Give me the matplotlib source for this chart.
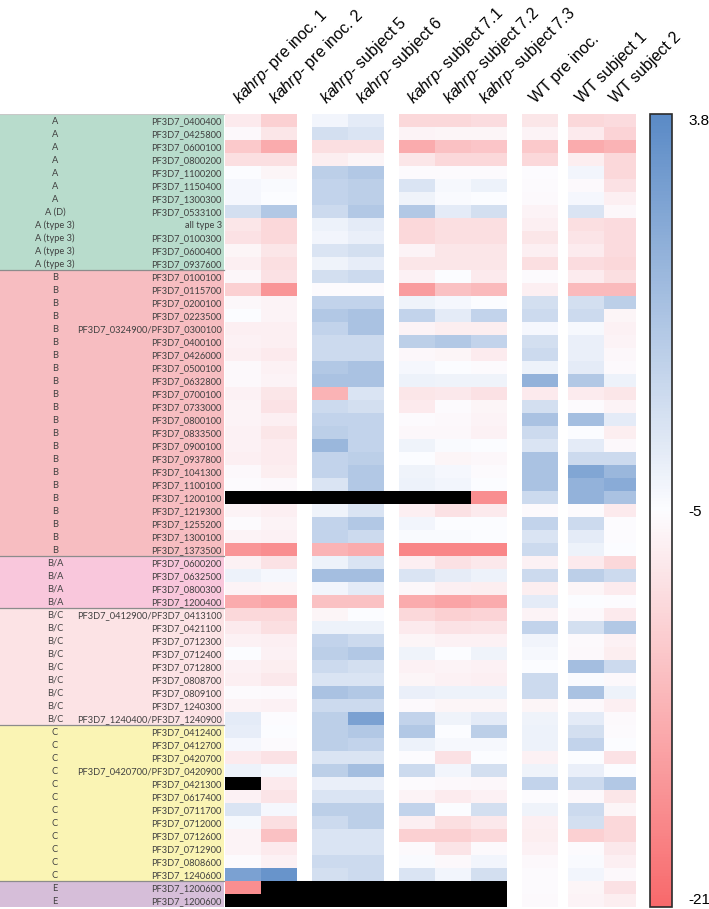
import numpy as np
import matplotlib
matplotlib.use('Agg')
import matplotlib.pyplot as plt
from matplotlib.colors import LinearSegmentedColormap, ListedColormap, TwoSlopeNorm
from matplotlib.cm import ScalarMappable
from matplotlib.patches import Rectangle

plt.rcParams['mathtext.fontset'] = 'custom'
plt.rcParams['mathtext.it'] = 'Liberation Sans:italic'
plt.rcParams['mathtext.rm'] = 'Liberation Sans'

# sample columns
samples = [r'$\mathit{kahrp}$- pre inoc. 1', r'$\mathit{kahrp}$- pre inoc. 2',
           r'$\mathit{kahrp}$- subject 5', r'$\mathit{kahrp}$- subject 6',
           r'$\mathit{kahrp}$- subject 7.1', r'$\mathit{kahrp}$- subject 7.2',
           r'$\mathit{kahrp}$- subject 7.3', 'WT pre inoc.',
           'WT subject 1', 'WT subject 2']

N = None  # no data (black)

# group A
A_groups = ['A'] * 7 + ['A (D)'] + ['A (type 3)'] * 4
A_genes = ['PF3D7_0400400', 'PF3D7_0425800', 'PF3D7_0600100', 'PF3D7_0800200',
           'PF3D7_1100200', 'PF3D7_1150400', 'PF3D7_1300300', 'PF3D7_0533100',
           'all type 3', 'PF3D7_0100300', 'PF3D7_0600400', 'PF3D7_0937600']
A_vals = [
    [-7, -9.8, -4.5, -3.7, -9, -9, -8.5, -7.4, -9, -8.6],
    [-5.5, -7.4, -2.8, -3.2, -6, -5.8, -5.8, -6, -7, -9.4],
    [-10.6, -13.8, -8.2, -8.2, -13.8, -11.4, -11, -10.6, -13.8, -13],
    [-8.2, -8.2, -6.6, -5.8, -7.4, -9, -9, -9, -6.6, -9],
    [-5, -5.8, -1.5, -1, -5.2, -5.2, -5.2, -5.1, -4.5, -9],
    [-4.6, -4.8, -1.9, -1.5, -3.2, -4.7, -4.2, -5.2, -5.3, -7.9],
    [-4.6, -5, -1.9, -1.5, -4.3, -4.8, -5, -5.3, -4.6, -6.4],
    [-2.8, -1, -2.4, -1, -1, -3.7, -2.8, -6, -3.2, -5.6],
    [-7.4, -9, -4.2, -3.7, -9, -8.2, -8.2, -6.4, -8.2, -8.6],
    [-7.9, -9, -4.5, -4, -9, -8.2, -8.2, -7.4, -7.6, -8.6],
    [-5.8, -7.4, -3.2, -2.8, -6, -7.4, -7.4, -6.4, -6.8, -8.6],
    [-6.5, -8.2, -4.3, -3.9, -7.4, -7.4, -7.4, -8.2, -8.5, -9],
]

# group B
B_groups = ['B'] * 22
B_genes = ['PF3D7_0100100', 'PF3D7_0115700', 'PF3D7_0200100', 'PF3D7_0223500',
           'PF3D7_0324900/PF3D7_0300100', 'PF3D7_0400100', 'PF3D7_0426000',
           'PF3D7_0500100', 'PF3D7_0632800', 'PF3D7_0700100', 'PF3D7_0733000',
           'PF3D7_0800100', 'PF3D7_0833500', 'PF3D7_0900100', 'PF3D7_0937800',
           'PF3D7_1041300', 'PF3D7_1100100', 'PF3D7_1200100', 'PF3D7_1219300',
           'PF3D7_1255200', 'PF3D7_1300100', 'PF3D7_1373500']
B_vals = [
    [-5.7, -7.9, -2.8, -2.4, -6.2, -5, -7, -5.2, -6.8, -8.2],
    [-9.8, -16.2, -5.2, -5.2, -15.4, -11.4, -12.2, -6.5, -12.2, -12.2],
    [-5.6, -6, -1.9, -1.9, -4.3, -4.6, -5, -2.8, -2.8, -1.5],
    [-5, -6, -1, -0.6, -1.9, -3.7, -1.9, -2.4, -2.4, -5.8],
    [-6.4, -6.4, -1.9, -0.6, -6, -6.6, -6.6, -4.6, -4.7, -6.2],
    [-6.2, -6.4, -2.4, -2.4, -1.5, -1, -1.9, -2.8, -4, -6],
    [-6.4, -7, -2.4, -2.4, -5.6, -5.8, -6.8, -2.4, -4, -5.6],
    [-5.4, -6.2, -1, -0.6, -4.6, -5, -5.2, -4.2, -3.7, -5.3],
    [-5.4, -6, -0.6, -0.6, -4.2, -4.3, -4.3, 0.7, -1, -4.2],
    [-6.2, -7.5, -13, -3.2, -7.5, -7.2, -8, -7, -6.8, -7.5],
    [-6, -7.8, -2.4, -2.8, -7, -5.2, -5.8, -2.8, -5.2, -6],
    [-6, -6.4, -1.9, -1.9, -5.2, -5.4, -6, -0.6, -0.2, -3.7],
    [-6.2, -7.5, -1.5, -1.9, -5.6, -5.6, -6.2, -2.4, -5, -6.6],
    [-6.2, -6.8, 0.3, -1.9, -4.3, -4.8, -5, -3.2, -3.7, -5.5],
    [-6.4, -6.8, -1.9, -1.5, -5, -5.8, -5.6, -0.6, -2.4, -2.4],
    [-5.4, -6.6, -1.9, -1, -4.3, -4.6, -5.2, -0.6, 1.6, 0.3],
    [-5.2, -5.4, -3.2, -1, -4.2, -4.5, -5, -0.6, 0.7, 1.2],
    [N, N, N, N, N, N, -17, -2.4, 0.7, -0.6],
    [-6, -6.4, -4.3, -3.2, -6.4, -8, -7, -5.3, -5.2, -7],
    [-5.2, -6, -1.9, -1, -4.5, -5, -5, -1.9, -2.4, -5.1],
    [-6, -6.2, -1.9, -2.4, -4.8, -4.8, -5, -3.2, -3.7, -5.1],
    [-16.2, -17, -13, -13.8, -17.8, -17.8, -17.8, -2.4, -4.2, -5],
]

# group B/A
BA_groups = ['B/A'] * 4
BA_genes = ['PF3D7_0600200', 'PF3D7_0632500', 'PF3D7_0800300', 'PF3D7_1200400']
BA_vals = [
    [-6.2, -7.8, -4.2, -3.2, -6.4, -8, -7.2, -6.2, -7, -9],
    [-4.2, -4.6, -0.2, -0.2, -3.2, -3.8, -4.2, -2.4, -1.5, -2.4],
    [-6, -5.8, -4.5, -3.7, -5.6, -6.4, -6.6, -6.6, -5.8, -6.8],
    [-13.8, -14.6, -11.4, -11.4, -13.8, -14.6, -13.8, -3.7, -5, -5.1],
]

# group B/C
BC_groups = ['B/C'] * 9
BC_genes = ['PF3D7_0412900/PF3D7_0413100', 'PF3D7_0421100', 'PF3D7_0712300',
            'PF3D7_0712400', 'PF3D7_0712800', 'PF3D7_0808700', 'PF3D7_0809100',
            'PF3D7_1240300', 'PF3D7_1240400/PF3D7_1240900']
BC_vals = [
    [-9, -9, -5.8, -5, -9, -9.8, -9.4, -6, -5.4, -7],
    [-7, -8.2, -4.2, -4.2, -7, -7.8, -7.6, -1.9, -2.8, -1],
    [-6.2, -6.4, -1.9, -2.4, -5.8, -6.2, -6.2, -4.4, -5.3, -6.2],
    [-5, -6.2, -1.5, -1, -4.3, -5, -4.3, -4.7, -5.5, -6.6],
    [-6.2, -6.6, -2.4, -2.8, -6.2, -6, -6.2, -5, -0.2, -2.4],
    [-6.4, -7.2, -3.2, -3.2, -5.8, -6.2, -6.4, -2.4, -4.8, -5.5],
    [-5.2, -5.3, -0.6, -1, -4, -4.2, -4.2, -2.4, -0.6, -4.2],
    [-6, -6.2, -2.4, -2.4, -5.3, -5.8, -5.8, -5.8, -5.4, -6.4],
    [-3.7, -5.1, -1.5, 2, -1.9, -4.3, -3.7, -4.3, -3.7, -5.3],
]

# group C
C_groups = ['C'] * 12
C_genes = ['PF3D7_0412400', 'PF3D7_0412700', 'PF3D7_0420700',
           'PF3D7_0420700/PF3D7_0420900', 'PF3D7_0421300', 'PF3D7_0617400',
           'PF3D7_0711700', 'PF3D7_0712000', 'PF3D7_0712600', 'PF3D7_0712900',
           'PF3D7_0808600', 'PF3D7_1240600']
C_vals = [
    [-3.9, -5, -1.5, -1, -1, -5, -1.5, -4.2, -2.8, -5.2],
    [-4.6, -5.2, -1.5, -1.9, -4.2, -4.7, -4.7, -4.2, -1.9, -5],
    [-7, -7.8, -3.2, -3.2, -5.1, -8, -5, -6.2, -5, -7.8],
    [-4.2, -4.7, -1.5, -0.2, -2.4, -4.5, -2.8, -4.3, -4, -5],
    [N, -7, -4, -4, -5.2, -5.4, -5.6, -1.9, -2.4, -1],
    [-6.2, -7.6, -3.2, -3.2, -6, -6.8, -6.2, -5.1, -5.5, -7.4],
    [-3.2, -4.6, -1.5, -1.5, -1.9, -5, -2.8, -4.3, -2.4, -5.8],
    [-4.7, -8.2, -2.4, -1.5, -6.4, -8.2, -7.2, -6.4, -2.8, -9],
    [-6, -11.4, -3.2, -3.2, -9.8, -9.8, -9, -6.6, -9.8, -9],
    [-6, -7, -3.2, -3.2, -5.3, -7.6, -5.3, -6.2, -5.2, -7.2],
    [-5.2, -6.2, -2.4, -2.4, -4.8, -5.5, -4.5, -5.5, -4.8, -6.4],
    [2, 3, -2.8, -2.4, -3.2, -4.5, -2.8, -5.2, -4.5, -5.5],
]

# group E
E_groups = ['E'] * 2
E_genes = ['PF3D7_1200600', 'PF3D7_1200600']
E_vals = [
    [-17, N, N, N, N, N, N, -5.2, -5.8, -8],
    [N, N, N, N, N, N, N, -5.3, -6, -6.6],
]

band_colors = ['#B8DCCC', '#F7BDC1', '#F9C7DC', '#FCE3E5', '#FAF4B4', '#D6BED9']

blocks = [(A_groups, A_genes, A_vals), (B_groups, B_genes, B_vals),
          (BA_groups, BA_genes, BA_vals), (BC_groups, BC_genes, BC_vals),
          (C_groups, C_genes, C_vals), (E_groups, E_genes, E_vals)]

groups = sum([b[0] for b in blocks], [])
genes = sum([b[1] for b in blocks], [])
vals = np.array([[np.nan if v is None else v for v in row]
                 for b in blocks for row in b[2]], dtype=float)
nrow = len(genes)

# column layout in pixel units: widths and the gaps that follow some columns
col_w = [36] * 9 + [32]
gap_after = {1: 15, 3: 15, 6: 15, 7: 10}
x_left = 225
label_w = 224

edges = [x_left]
data_idx = []
gap_pairs = []
for j, w in enumerate(col_w):
    data_idx.append(len(edges) - 1)
    edges.append(edges[-1] + w)
    if j in gap_after:
        gap_pairs.append((len(edges) - 1, j))
        edges.append(edges[-1] + gap_after[j])
edges = np.array(edges, dtype=float)
ncell = len(edges) - 1

full = np.full((nrow, ncell), np.nan)
missing = np.zeros((nrow, ncell))
for j, c in enumerate(data_idx):
    full[:, c] = vals[:, j]
    missing[:, c] = np.isnan(vals[:, j])
for c, j in gap_pairs:
    missing[:, c] = np.isnan(vals[:, j]) & np.isnan(vals[:, j + 1])

cmap = LinearSegmentedColormap.from_list('rwb', ['#F8696B', '#FCFCFF', '#5A8AC6'])
cmap.set_bad((0, 0, 0, 0))
norm = TwoSlopeNorm(vmin=-21, vcenter=-5, vmax=3.8)

W, H = 709, 909
fig = plt.figure(figsize=(W / 100, H / 100), dpi=100)
top_px, row_h = 114, 13
ax = fig.add_axes([0, (H - top_px - nrow * row_h) / H, edges[-1] / W, nrow * row_h / H])
ax.set_xlim(0, edges[-1])
ax.set_ylim(nrow, 0)
ax.axis('off')

yy = np.arange(nrow + 1)
ax.pcolormesh(edges, yy, np.ma.masked_equal(missing, 0),
              cmap=ListedColormap(['black']), vmin=0, vmax=1, linewidth=0)
ax.pcolormesh(edges, yy, np.ma.masked_invalid(full), cmap=cmap, norm=norm,
              linewidth=0)

# label bands
start = 0
for (g, _, _), col in zip(blocks, band_colors):
    ax.add_patch(Rectangle((0, start), label_w, len(g), facecolor=col,
                           edgecolor='none'))
    start += len(g)
    if start < nrow:
        ax.plot([0, label_w], [start, start], color='#8C8C8C', lw=0.9)
ax.plot([0, label_w], [0, 0], color='#C8C8C8', lw=0.8)

for i in range(nrow):
    ax.text(55, i + 0.55, groups[i], ha='center', va='center', fontsize=6.7,
            family='Lato', color='#404040')
    ax.text(label_w - 2, i + 0.55, genes[i], ha='right', va='center',
            fontsize=6.7, family='Lato', color='#404040')

# column headers
for j, c in enumerate(data_idx):
    xc = (edges[c] + edges[c + 1]) / 2
    ax.text(xc - 4, -0.75, samples[j], rotation=45, rotation_mode='anchor',
            ha='left', va='baseline', fontsize=11.5, family='Liberation Sans',
            clip_on=False)

# colour scale
cax = fig.add_axes([650 / W, 2 / H, 22 / W, 793 / H])
cb = fig.colorbar(ScalarMappable(norm=norm, cmap=cmap), cax=cax,
                  ticks=[-21, -5, 3.8])
cb.set_ticklabels(['-21', '-5', '3.8'])
cb.ax.tick_params(length=0, labelsize=11, pad=12)
for lbl in cb.ax.get_yticklabels():
    lbl.set_family('Liberation Sans')
labs = cb.ax.get_yticklabels()
labs[0].set_va('bottom')
labs[2].set_va('top')
cb.outline.set_edgecolor('#2B2B2B')
cb.outline.set_linewidth(1.2)

fig.savefig('out.png', dpi=100)
